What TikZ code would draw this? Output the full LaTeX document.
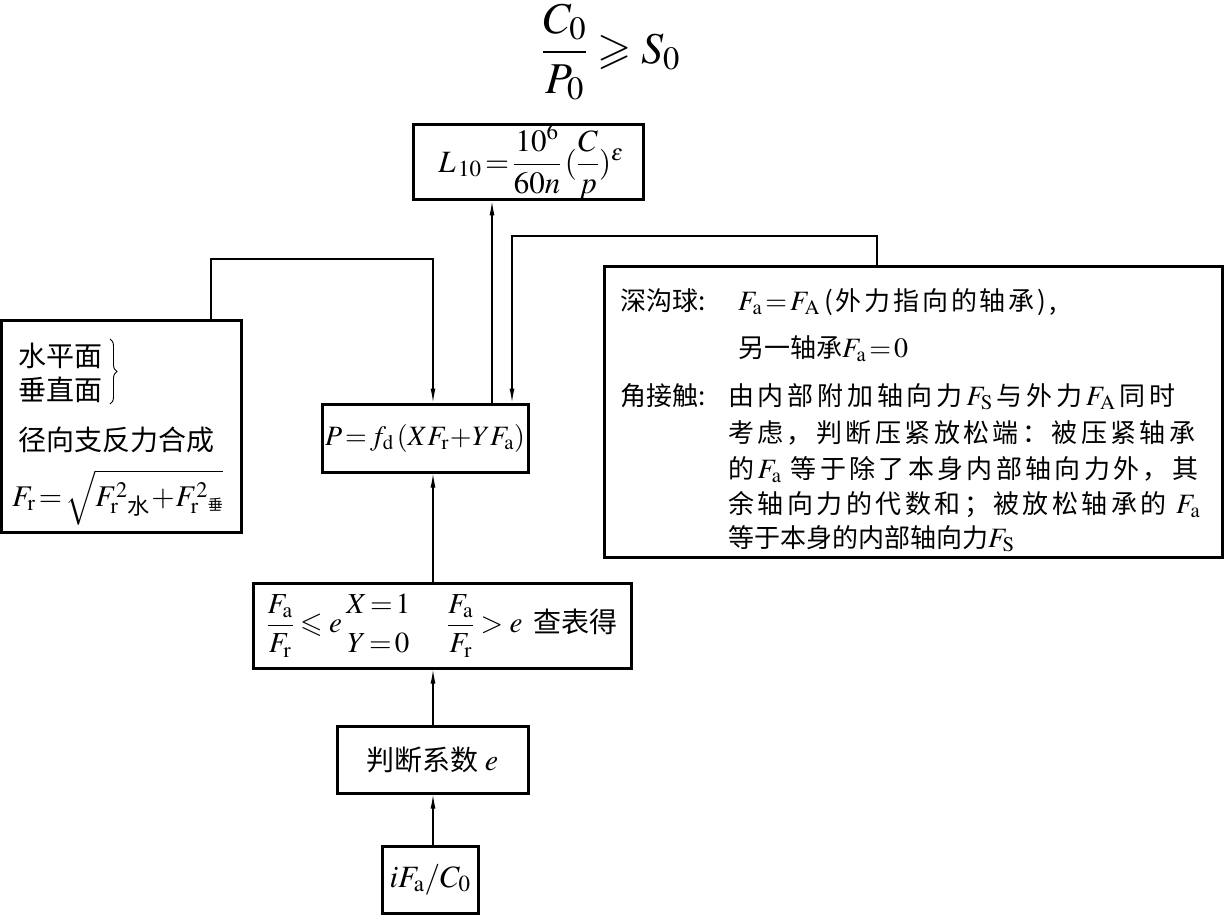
\documentclass[tikz,border=0pt]{standalone}
\usepackage{mathptmx}
\usepackage{amsmath,amssymb}
\usepackage[no-math]{fontspec}
\setmainfont{Liberation Serif}
\newfontfamily\cj{Noto Sans CJK SC}
\usetikzlibrary{arrows.meta,decorations.pathreplacing}
\newcommand{\rmsub}[1]{\mathrm{#1}}
\newcommand{\mm}[2]{{\fontsize{#1}{#1}\selectfont$#2$}}
\makeatletter
\newcommand{\spreadline}[2]{\makebox[#1][s]{\@tfor\sp@item:=#2\do{\sp@item\hfil}\unskip}}
\makeatother
\begin{document}
\begin{tikzpicture}[x=1pt,y=-1pt,
  box/.style={draw,line width=3pt,inner sep=0pt,align=center},
  txt/.style={inner sep=0pt,anchor=base west},
  arr/.style={line width=1.2pt,-{Latex[length=14pt,width=5pt]}},
  every node/.style={font=\cj\fontsize{28}{34}\selectfont}]
\useasboundingbox[fill=white] (0,0) rectangle (1225,916);

% title formula
\node[inner sep=0pt,font=\fontsize{44}{52}\selectfont] (top) at (611,52) {$\dfrac{C_0}{P_0}\geqslant S_0$};

% boxes
\node[box,minimum width=230pt,minimum height=70pt] (L) at (528,162)
  {\hspace*{6pt}\mm{31}{L_{\,10}\,{=}\,\dfrac{10^6}{60n}\,(\dfrac{C}{p})^{\varepsilon}}};
\node[box,minimum width=206pt,minimum height=68pt] (P) at (425,438)
  {\mm{28}{P\!=\!f_{\rmsub{d}}\,(XF_{\rmsub{r}}\!+\!YF_{\rmsub{a}})}};
\node[box,minimum width=378pt,minimum height=85pt] (C) at (442,625.5)
  {\mm{29}{\dfrac{F_{\rmsub{a}}}{F_{\rmsub{r}}}\leqslant e\,\genfrac{}{}{0pt}{0}{X\!=\!1}{Y\!=\!0}\quad\; \dfrac{F_{\rmsub{a}}}{F_{\rmsub{r}}}>e}\, 查表得};
\node[box,minimum width=191pt,minimum height=67pt] (J) at (432.5,759.5) {判断系数 \mm{30}{e}};
\node[box,minimum width=96pt,minimum height=67pt] (I) at (430,879.5) {\mm{31}{iF_{\rmsub{a}}/C_0}};

% left box
\node[box,minimum width=240pt,minimum height=212pt] (Lb) at (121,426) {};
\node[txt] (l1) at (18,366) {水平面};
\node[txt] (l2) at (18,400) {垂直面};
\draw[decorate,decoration={brace,amplitude=7pt},line width=0.9pt] (110,339) -- (110,404);
\node[txt] (l3) at (18,450) {径向支反力合成};
\node[txt] (l4) at (12,506) {\mm{30}{F_{\rmsub{r}}\!=\!\sqrt{F_{\rmsub{r}}^{2}{}_{\text{\cj 水}}\!+\!F_{\rmsub{r}}^{2}{}_{\text{\cj\fontsize{15}{15}\selectfont 垂}}}}};

% right box
\node[box,minimum width=618pt,minimum height=291pt] (R) at (913,411.5) {};
\begin{scope}[every node/.style={font=\cj\fontsize{26}{32}\selectfont}]
\node[txt] (r1a) at (620,310) {深沟球:};
\node[txt] (r1b) at (738,310) {\mm{28}{F_{\rmsub{a}}\!=\!F_{\rmsub{A}}}\,\spreadline{232pt}{(外力指向的轴承),}};
\node[txt] (r2) at (738,357) {另一轴承\mm{28}{F_{\rmsub{a}}\!=\!0}};
\node[txt] (r3a) at (620,405) {角接触:};
\node[txt] (r3b) at (728,405) {\spreadline{447pt}{由内部附加轴向力{\mm{28}{F_{\rmsub{S}}}}与外力{\mm{28}{F_{\rmsub{A}}}}同时}};
\node[txt] (r4) at (728,442) {\spreadline{467pt}{考虑，判断压紧放松端：被压紧轴承}};
\node[txt] (r5) at (728,478) {\spreadline{470pt}{的{\mm{28}{F_{\rmsub{a}}}\ }等于除了本身内部轴向力外，其}};
\node[txt] (r6) at (728,513) {\spreadline{472pt}{余轴向力的代数和；被放松轴承的{\ \mm{28}{F_{\rmsub{a}}}}}};
\node[txt] (r7) at (728,547) {等于本身的内部轴向力\mm{28}{F_{\rmsub{S}}}};
\end{scope}

% connectors
\coordinate (a1) at (492,300);
\draw[arr] (P.north -| a1) -- (L.south -| a1);
\coordinate (b1) at (877,236);
\coordinate (b2) at (512,236);
\draw[arr] (R.north -| b1) -- (b1) -- (b2) -- (P.north -| b2);
\coordinate (c1) at (211,259);
\coordinate (c2) at (433,259);
\draw[arr] (Lb.north -| c1) -- (c1) -- (c2) -- (P.north -| c2);
\draw[arr] (C.north -| c2) -- (P.south -| c2);
\draw[arr] (J.north -| c2) -- (C.south -| c2);
\draw[arr] (I.north -| c2) -- (J.south -| c2);
\end{tikzpicture}
\end{document}
